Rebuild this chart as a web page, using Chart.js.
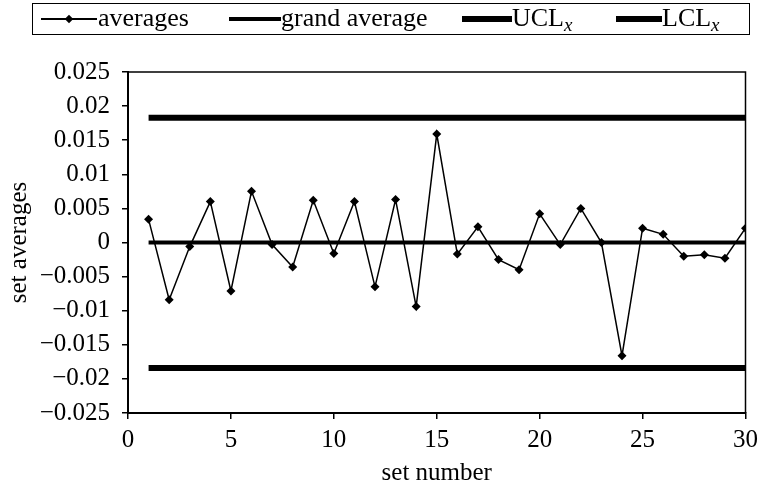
<!DOCTYPE html>
<html>
<head>
<meta charset="utf-8">
<script src="https://cdn.jsdelivr.net/npm/chart.js@4.4.1/dist/chart.umd.min.js"></script>
<style>
  body { margin: 0; background: #fff; }
  #wrap { position: relative; width: 764px; height: 488px; }
  #legend {
    position: absolute; left: 32px; top: 3px; width: 716px; height: 30px;
    border: 1px solid #000; font-family: "Liberation Serif", serif; font-size: 26px; color: #000;
  }
  .label { position: absolute; top: 0; height: 30px; line-height: 28px; white-space: nowrap; }
  .label sub { font-size: 19px; vertical-align: -5px; line-height: 0; }
  .swatch { position: absolute; background: #000; }
  .diamond { position: absolute; width: 6px; height: 6px; background: #000; transform: rotate(45deg); }
</style>
</head>
<body>
<div id="wrap">
  <canvas id="chart" width="764" height="488"></canvas>
  <div id="legend"></div>
</div>
<script>
// Data
const setNumbers = [1, 2, 3, 4, 5, 6, 7, 8, 9, 10, 11, 12, 13, 14, 15,
                    16, 17, 18, 19, 20, 21, 22, 23, 24, 25, 26, 27, 28, 29, 30];
const averages = [0.0034, -0.0084, -0.0006, 0.0060, -0.0071, 0.0075, -0.0003, -0.0036, 0.0062, -0.0016,
                  0.0060, -0.0065, 0.0063, -0.0094, 0.0159, -0.0017, 0.0023, -0.0025, -0.0040, 0.0042,
                  -0.0003, 0.0050, 0.0000, -0.0166, 0.0021, 0.0012, -0.0020, -0.0018, -0.0023, 0.0021];
const grandAverage = 0;
const uclX = 0.0183;
const lclX = -0.0184;
const xTicks = [0, 5, 10, 15, 20, 25, 30];
const yTicks = [-0.025, -0.02, -0.015, -0.01, -0.005, 0, 0.005, 0.01, 0.015, 0.02, 0.025];
const seriesNames = ['averages', 'grand average', 'UCL<sub><i>x</i></sub>', 'LCL<sub><i>x</i></sub>'];

const font = { family: '"Liberation Serif", serif', size: 25 };

// constant lines spanning the sets
const flat = value => setNumbers.map(x => ({ x: x, y: value }));

// Legend drawn as html so the subscripts stay real text
const legendItems = [
  { lineLeft: 8, lineWidth: 56, thick: 1.5, marker: true, textLeft: 65 },
  { lineLeft: 196, lineWidth: 52, thick: 3.5, marker: false, textLeft: 248 },
  { lineLeft: 429, lineWidth: 50, thick: 5.5, marker: false, textLeft: 479 },
  { lineLeft: 583, lineWidth: 46, thick: 5.5, marker: false, textLeft: 629 }
];
const legend = document.getElementById('legend');
legendItems.forEach((item, i) => {
  const sw = document.createElement('div');
  sw.className = 'swatch';
  sw.style.left = item.lineLeft + 'px';
  sw.style.width = item.lineWidth + 'px';
  sw.style.height = item.thick + 'px';
  sw.style.top = (15 - item.thick / 2) + 'px';
  legend.appendChild(sw);
  if (item.marker) {
    const d = document.createElement('div');
    d.className = 'diamond';
    d.style.left = (item.lineLeft + item.lineWidth / 2 - 3) + 'px';
    d.style.top = '12px';
    legend.appendChild(d);
  }
  const t = document.createElement('div');
  t.className = 'label';
  t.style.left = item.textLeft + 'px';
  t.innerHTML = seriesNames[i];
  legend.appendChild(t);
});

// Frame around the plot area (top and right sides)
const frame = {
  id: 'frame',
  afterDatasetsDraw(chart) {
    const { ctx, chartArea: a } = chart;
    ctx.save();
    ctx.strokeStyle = '#000';
    ctx.lineWidth = 1.5;
    ctx.beginPath();
    ctx.moveTo(a.left, a.top);
    ctx.lineTo(a.right, a.top);
    ctx.lineTo(a.right, a.bottom);
    ctx.stroke();
    ctx.restore();
  }
};

const fmt = v => {
  const n = parseFloat(Number(v).toFixed(3));
  return n < 0 ? '\u2212' + String(-n) : String(n);
};

new Chart(document.getElementById('chart'), {
  type: 'line',
  data: {
    datasets: [
      {
        label: 'averages',
        data: setNumbers.map((x, i) => ({ x: x, y: averages[i] })),
        borderColor: '#000',
        backgroundColor: '#000',
        borderWidth: 1.5,
        pointStyle: 'rectRot',
        pointRadius: 4.5,
        pointBorderWidth: 0,
        tension: 0
      },
      {
        label: 'grand average',
        data: flat(grandAverage),
        borderColor: '#000',
        borderWidth: 4,
        pointRadius: 0
      },
      {
        label: 'UCLx',
        data: flat(uclX),
        borderColor: '#000',
        borderWidth: 6,
        pointRadius: 0
      },
      {
        label: 'LCLx',
        data: flat(lclX),
        borderColor: '#000',
        borderWidth: 6,
        pointRadius: 0
      }
    ]
  },
  options: {
    responsive: false,
    animation: false,
    layout: { padding: { top: 72, right: 18, left: 0, bottom: 0 } },
    plugins: { legend: { display: false }, tooltip: { enabled: false } },
    scales: {
      x: {
        type: 'linear',
        min: 0,
        max: 30,
        afterFit: s => { s.height = 75; },
        afterBuildTicks: s => { s.ticks = xTicks.map(v => ({ value: v })); },
        grid: { drawOnChartArea: false, drawTicks: true, tickLength: 6, color: '#000', lineWidth: 1.5 },
        border: { display: true, color: '#000', width: 2 },
        ticks: { color: '#000', font: font, padding: 6, maxRotation: 0 },
        title: { display: true, text: 'set number', color: '#000', font: font, padding: { top: 0, bottom: 0 } }
      },
      y: {
        min: -0.025,
        max: 0.025,
        afterFit: s => { s.width = 128; },
        afterBuildTicks: s => { s.ticks = yTicks.map(v => ({ value: v })); },
        grid: { drawOnChartArea: false, drawTicks: true, tickLength: 6, color: '#000', lineWidth: 1.5 },
        border: { display: true, color: '#000', width: 2 },
        ticks: { color: '#000', font: font, padding: 12, callback: fmt },
        title: { display: true, text: 'set averages', color: '#000', font: font, padding: { top: 4, bottom: 0 } }
      }
    }
  },
  plugins: [frame]
});
</script>
</body>
</html>
